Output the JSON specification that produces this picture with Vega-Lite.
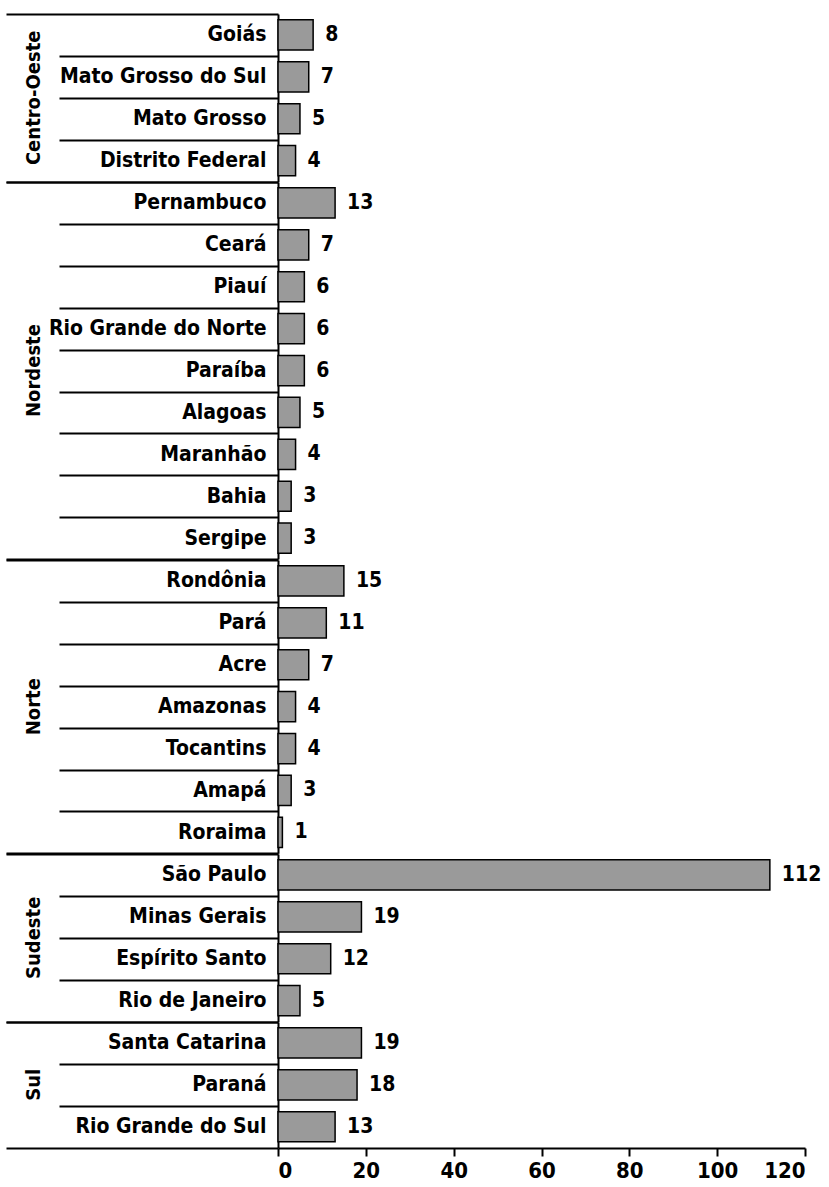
{
  "$schema": "https://vega.github.io/schema/vega-lite/v6.json",
  "padding": {"left": 5, "top": 3, "right": 5, "bottom": 0},
  "background": "white",
  "data": {"values": [
    {"regiao": "Centro-Oeste", "estado": "Goiás", "valor": 8},
    {"regiao": "Centro-Oeste", "estado": "Mato Grosso do Sul", "valor": 7},
    {"regiao": "Centro-Oeste", "estado": "Mato Grosso", "valor": 5},
    {"regiao": "Centro-Oeste", "estado": "Distrito Federal", "valor": 4},
    {"regiao": "Nordeste", "estado": "Pernambuco", "valor": 13},
    {"regiao": "Nordeste", "estado": "Ceará", "valor": 7},
    {"regiao": "Nordeste", "estado": "Piauí", "valor": 6},
    {"regiao": "Nordeste", "estado": "Rio Grande do Norte", "valor": 6},
    {"regiao": "Nordeste", "estado": "Paraíba", "valor": 6},
    {"regiao": "Nordeste", "estado": "Alagoas", "valor": 5},
    {"regiao": "Nordeste", "estado": "Maranhão", "valor": 4},
    {"regiao": "Nordeste", "estado": "Bahia", "valor": 3},
    {"regiao": "Nordeste", "estado": "Sergipe", "valor": 3},
    {"regiao": "Norte", "estado": "Rondônia", "valor": 15},
    {"regiao": "Norte", "estado": "Pará", "valor": 11},
    {"regiao": "Norte", "estado": "Acre", "valor": 7},
    {"regiao": "Norte", "estado": "Amazonas", "valor": 4},
    {"regiao": "Norte", "estado": "Tocantins", "valor": 4},
    {"regiao": "Norte", "estado": "Amapá", "valor": 3},
    {"regiao": "Norte", "estado": "Roraima", "valor": 1},
    {"regiao": "Sudeste", "estado": "São Paulo", "valor": 112},
    {"regiao": "Sudeste", "estado": "Minas Gerais", "valor": 19},
    {"regiao": "Sudeste", "estado": "Espírito Santo", "valor": 12},
    {"regiao": "Sudeste", "estado": "Rio de Janeiro", "valor": 5},
    {"regiao": "Sul", "estado": "Santa Catarina", "valor": 19},
    {"regiao": "Sul", "estado": "Paraná", "valor": 18},
    {"regiao": "Sul", "estado": "Rio Grande do Sul", "valor": 13}
  ]},
  "facet": {
    "row": {
      "field": "regiao",
      "type": "nominal",
      "title": null,
      "header": {
        "labelOrient": "left",
        "labelAngle": -90,
        "labelFont": "DejaVu Sans Condensed",
        "labelFontSize": 20,
        "labelFontWeight": "bold",
        "labelColor": "black",
        "labelPadding": 224
      }
    }
  },
  "bounds": "flush",
  "spacing": {"row": 0},
  "resolve": {"scale": {"y": "independent"}},
  "spec": {
    "width": 527,
    "height": {"step": 41.9},
    "encoding": {
      "y": {
        "field": "estado",
        "type": "nominal",
        "sort": null,
        "scale": {"paddingInner": 0, "paddingOuter": 0},
        "axis": {
          "title": null,
          "domainColor": "black",
          "domainWidth": 2,
          "tickBand": "extent",
          "tickColor": "black",
          "tickWidth": 2,
          "tickSize": {
            "condition": {
              "test": "datum.extra || datum.index >= 1 || indexof(['Distrito Federal','Sergipe','Roraima','Rio de Janeiro','Rio Grande do Sul'], datum.value) >= 0",
              "value": 272
            },
            "value": 219
          },
          "labelPadding": {
            "condition": {
              "test": "datum.extra || datum.index >= 1 || indexof(['Distrito Federal','Sergipe','Roraima','Rio de Janeiro','Rio Grande do Sul'], datum.value) >= 0",
              "value": -260
            },
            "value": -207
          },
          "labelFont": "DejaVu Sans Condensed",
          "labelFontSize": 21,
          "labelFontWeight": "bold",
          "labelColor": "black",
          "labelLimit": 0
        }
      },
      "x": {
        "field": "valor",
        "type": "quantitative",
        "scale": {"domain": [0, 120]},
        "axis": {
          "title": null,
          "values": [0, 20, 40, 60, 80, 100, 120],
          "grid": false,
          "domainColor": "black",
          "domainWidth": 2,
          "tickColor": "black",
          "tickWidth": 2,
          "tickSize": 8,
          "labelPadding": 4,
          "labelFont": "DejaVu Sans Condensed",
          "labelFontSize": 22,
          "labelFontWeight": "bold",
          "labelColor": "black"
        }
      }
    },
    "layer": [
      {
        "mark": {"type": "bar", "height": {"band": 0.72}, "fill": "#9a9a9a", "stroke": "black", "strokeWidth": 1.5}
      },
      {
        "mark": {
          "type": "text",
          "align": "left",
          "baseline": "middle",
          "dx": 12,
          "font": "DejaVu Sans Condensed",
          "fontSize": 21,
          "fontWeight": "bold",
          "color": "black"
        },
        "encoding": {"text": {"field": "valor", "type": "quantitative"}}
      }
    ]
  },
  "config": {"view": {"stroke": null}, "facet": {"spacing": 0}}
}
